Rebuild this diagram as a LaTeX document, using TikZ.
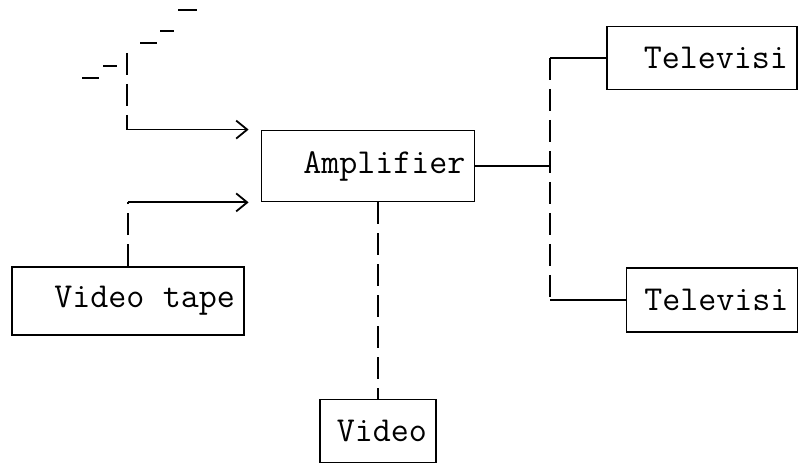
\documentclass[tikz,border=0pt]{standalone}
\usetikzlibrary{positioning, arrows.meta, calc}
\tikzset{
  box/.style={draw, line width=1.8pt, font=\ttfamily\fontsize{35}{38}\selectfont,
              inner xsep=9pt, inner ysep=0pt, align=right, anchor=center},
  conn/.style={line width=1.8pt},
  brk/.style={conn, dash pattern=on 22pt off 9pt},
  arr/.style={conn, -{Straight Barb[length=11pt, width=18pt, line width=1.8pt]},
              shorten >=12pt}
}

\begin{document}
\begin{tikzpicture}[x=1pt, y=-1pt]
  \useasboundingbox (0,0) rectangle (804,470);

  % ----- boxes -----
  \node[box, minimum width=213pt, minimum height=71pt, text width=195pt] (amp) at (368,166) {Amplifier};
  \node[box, minimum width=232pt, minimum height=68pt, text width=214pt] (tape) at (128,301) {Video\hspace{0.525em}tape};
  \node[box, minimum width=116pt, minimum height=63pt, text width=98pt] (video) at (378,431) {Video};
  \node[box, minimum width=190pt, minimum height=63pt, text width=172pt] (tvtop) at (702,58) {Televisi};
  \node[box, minimum width=171pt, minimum height=64pt, text width=153pt] (tvbot) at (712,300) {Televisi};

  % ----- free ends -----
  \coordinate (feed) at (127,53);
  \coordinate (bus) at (550,166);

  % ----- broken diagonal at the top left -----
  \draw[conn] (178,10) -- (197,10)
              (160,31) -- (174,31)
              (140,43) -- (157,43)
              (103,66) -- (117,66)
              (82,78) -- (99,78);

  % ----- inputs to the amplifier -----
  \draw[brk] (feed) -- (feed |- amp.north west);
  \draw[arr] (feed |- amp.north west) -- (amp.north west);
  \draw[brk] (tape.north) -- (tape.north |- amp.south west);
  \draw[arr] (tape.north |- amp.south west) -- (amp.south west);

  % ----- amplifier to video -----
  \draw[brk] (video.north |- amp.south) -- (video.north);

  % ----- amplifier to both televisions -----
  \draw[conn] (amp.east) -- (bus);
  \draw[conn] (tvtop.west) -- (tvtop.west -| bus);
  \draw[brk] (tvtop.west -| bus) -- (tvbot.west -| bus);
  \draw[conn] (tvbot.west -| bus) -- (tvbot.west);

\end{tikzpicture}
\end{document}
